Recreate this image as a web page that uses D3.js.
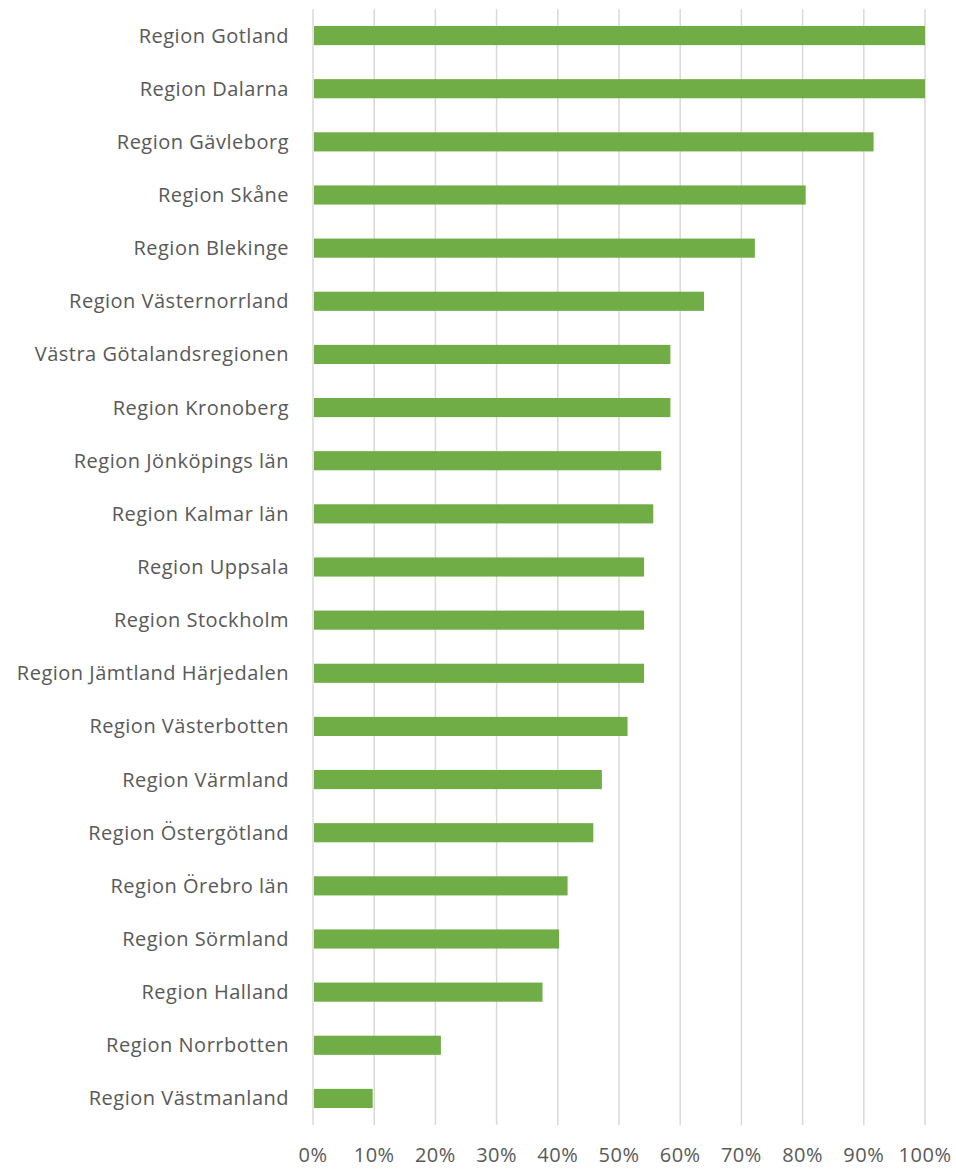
<!DOCTYPE html>
<html>
<head>
<meta charset="utf-8">
<style>
  body { margin: 0; background: #fff; overflow: hidden; }
  svg { display: block; }
  text { font-family: "Open Sans", Lato, sans-serif; fill: #595959; letter-spacing: 0.5px; }
  .grid line { stroke: #d9d9d9; stroke-width: 1.5px; }
  .bar { fill: #70ad47; }
</style>
</head>
<body>
<div id="chart"></div>
<script src="https://cdn.jsdelivr.net/npm/d3@7"></script>
<script>
  var regions = [
    "Region Gotland", "Region Dalarna", "Region Gävleborg", "Region Skåne",
    "Region Blekinge", "Region Västernorrland", "Västra Götalandsregionen",
    "Region Kronoberg", "Region Jönköpings län", "Region Kalmar län",
    "Region Uppsala", "Region Stockholm", "Region Jämtland Härjedalen",
    "Region Västerbotten", "Region Värmland", "Region Östergötland",
    "Region Örebro län", "Region Sörmland", "Region Halland",
    "Region Norrbotten", "Region Västmanland"
  ];
  var shares = [
    1.00, 1.00, 0.916, 0.805, 0.722, 0.639, 0.584,
    0.584, 0.569, 0.556, 0.541, 0.541, 0.541,
    0.514, 0.472, 0.458, 0.416, 0.402, 0.375,
    0.209, 0.0975
  ];
  var tickValues = [0, 0.1, 0.2, 0.3, 0.4, 0.5, 0.6, 0.7, 0.8, 0.9, 1.0];

  var width = 956, height = 1170;
  var plotLeft = 313, plotRight = 925, plotTop = 9, plotBottom = 1125;

  var svg = d3.select("#chart").append("svg")
      .attr("width", width)
      .attr("height", height);

  var x = d3.scaleLinear().domain([0, 1]).range([plotLeft, plotRight]);
  var y = d3.scaleBand().domain(regions).range([plotTop, plotBottom])
      .paddingInner(0.64).paddingOuter(0.32);

  // vertical gridlines
  svg.append("g").attr("class", "grid")
    .selectAll("line")
    .data(tickValues)
    .enter().append("line")
      .attr("x1", function(d) { return x(d); })
      .attr("x2", function(d) { return x(d); })
      .attr("y1", plotTop)
      .attr("y2", plotBottom);

  svg.append("g")
    .selectAll("rect")
    .data(regions)
    .enter().append("rect")
      .attr("class", "bar")
      .attr("x", x(0) + 1)
      .attr("y", function(d) { return y(d); })
      .attr("width", function(d, i) { return x(shares[i]) - x(0) - 1; })
      .attr("height", y.bandwidth());

  // category labels
  svg.append("g")
    .selectAll("text")
    .data(regions)
    .enter().append("text")
      .attr("x", plotLeft - 24)
      .attr("y", function(d) { return y(d) + y.bandwidth() / 2; })
      .attr("dy", "0.35em")
      .attr("text-anchor", "end")
      .style("font-size", "20px")
      .text(function(d) { return d; });

  // x axis tick labels
  var fmt = d3.format(".0%");
  svg.append("g")
    .selectAll("text")
    .data(tickValues)
    .enter().append("text")
      .attr("x", function(d) { return x(d); })
      .attr("y", 1155)
      .attr("dy", "0.35em")
      .attr("text-anchor", "middle")
      .style("font-size", "20px")
      .text(function(d) { return fmt(d); });
</script>
</body>
</html>
